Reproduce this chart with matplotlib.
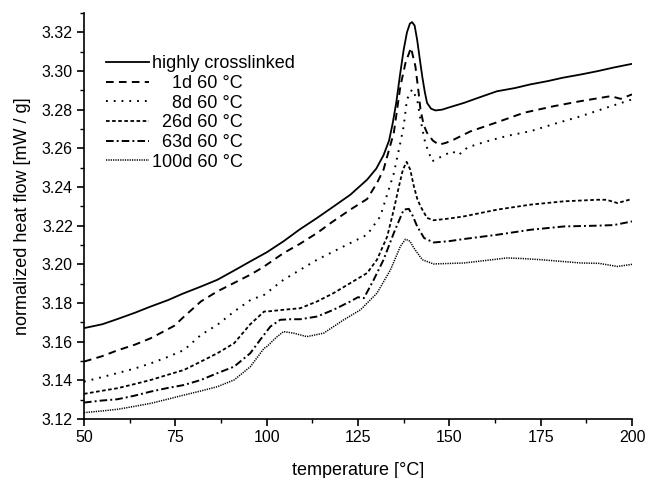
import matplotlib
matplotlib.use("Agg")
import matplotlib.pyplot as plt
from matplotlib.ticker import MultipleLocator, FormatStrFormatter

plt.rcParams['font.family'] = ['Liberation Sans', 'DejaVu Sans']
plt.rcParams['lines.scale_dashes'] = False

labels = ["highly crosslinked", "    1d 60 °C", "    8d 60 °C", "  26d 60 °C", "  63d 60 °C", "100d 60 °C"]

t_hc = [50, 55, 59, 64, 68, 73, 77, 82, 86.5, 91, 95.5, 100, 104.6, 109, 113.8, 118, 122.9, 127.5, 130, 132,
        133.5, 134.5, 135.5, 136.5, 137.5, 138.4, 139.2, 139.8, 140.5, 141.2, 142, 142.6, 143.3, 143.9, 145, 146.2,
        148, 150, 154, 158, 163, 168, 172, 177, 181, 186, 190.5, 195, 200]
v_hc = [3.167, 3.169, 3.1716, 3.175, 3.178, 3.1815, 3.1848, 3.1885, 3.192, 3.1967, 3.2015, 3.2062, 3.2119, 3.218,
        3.224, 3.2295, 3.236, 3.2438, 3.2495, 3.2565, 3.264, 3.273, 3.284, 3.298, 3.311, 3.320, 3.3245, 3.3253,
        3.3235, 3.316, 3.305, 3.297, 3.289, 3.2835, 3.2805, 3.2796, 3.2800, 3.2812, 3.2835, 3.2862, 3.2895,
        3.2912, 3.293, 3.2948, 3.2965, 3.2982, 3.2999, 3.3018, 3.3037]

t_1d = [50, 55, 59, 64, 68.3, 72, 74.7, 77.4, 82, 86.5, 91, 95.5, 99, 104.6, 109, 113.8, 118, 122.9, 127.5,
        130.2, 132, 133, 134.8, 136.6, 138, 139.5, 140.7, 141.6, 142.1, 143, 143.9, 145.5, 147.1, 149, 151.2,
        155.8, 163.1, 170.4, 178.6, 185.9, 194.2, 196.9, 200]
v_1d = [3.1497, 3.1525, 3.1554, 3.1585, 3.1618, 3.1655, 3.1682, 3.173, 3.1808, 3.186, 3.1903, 3.1946, 3.1985,
        3.2058, 3.2105, 3.2162, 3.222, 3.2283, 3.2338, 3.2421, 3.249, 3.2559, 3.268, 3.2921, 3.3042, 3.312,
        3.3025, 3.2887, 3.28, 3.272, 3.268, 3.264, 3.2619, 3.2628, 3.2645, 3.2688, 3.2735, 3.2784, 3.2818,
        3.2844, 3.287, 3.2856, 3.2879]

t_8d = [50, 54.6, 59.1, 63.7, 68.3, 72.8, 77.4, 82, 86.5, 91.1, 95.6, 99.3, 104.6, 113.8, 122.9, 127.5, 131.1,
        134.8, 136.6, 137.5, 138.4, 139.8, 141.2, 142.1, 143.4, 145.3, 148, 150.8, 152.5, 155, 160, 166, 172.3,
        179, 186, 193, 200]
v_8d = [3.1393, 3.1415, 3.1437, 3.146, 3.1488, 3.152, 3.1557, 3.1635, 3.1687, 3.1756, 3.1816, 3.1842, 3.192,
        3.2024, 3.211, 3.2153, 3.2248, 3.247, 3.263, 3.2714, 3.2853, 3.2905, 3.2853, 3.2749, 3.2628, 3.2533,
        3.2559, 3.2585, 3.2565, 3.2605, 3.2635, 3.2665, 3.2689, 3.2728, 3.2766, 3.281, 3.2853]

t_26d = [50, 54.6, 59.1, 63.7, 68.3, 72.8, 77.4, 82, 86.5, 91.1, 95.5, 99.3, 100.1, 104.6, 109.2, 113.8, 118.3,
         122.9, 127.5, 130.2, 133, 134.8, 136.2, 137.3, 138.3, 139.3, 140.3, 141.2, 142.1, 143.9, 145.7, 150,
         154, 163.1, 172.3, 181.4, 190.5, 193, 196, 200]
v_26d = [3.133, 3.1345, 3.1359, 3.138, 3.1402, 3.1428, 3.1454, 3.1497, 3.154, 3.1592, 3.169, 3.1756, 3.1756,
         3.1765, 3.1773, 3.1808, 3.1851, 3.1903, 3.1955, 3.2024, 3.2144, 3.2283, 3.2403, 3.249, 3.253, 3.249,
         3.2403, 3.234, 3.23, 3.224, 3.2228, 3.2237, 3.2248, 3.2283, 3.2309, 3.2326, 3.2334, 3.2334, 3.2317,
         3.2338]

t_63d = [50, 54.6, 59.1, 63.7, 68.3, 72.8, 77.4, 82, 86.5, 91.1, 95.5, 98.2, 101, 103.7, 106.5, 109.2, 113.8,
         118.3, 122.9, 125, 126.6, 129.3, 132, 134.8, 137.5, 138.9, 140, 141.2, 143.1, 145.7, 150, 154, 163.1,
         172.3, 181.4, 190.5, 195, 200]
v_63d = [3.1285, 3.1295, 3.1302, 3.132, 3.1342, 3.136, 3.1376, 3.1402, 3.1437, 3.1471, 3.154, 3.1609, 3.1678,
         3.1713, 3.1716, 3.1716, 3.173, 3.1765, 3.1808, 3.183, 3.1825, 3.192, 3.2024, 3.2162, 3.2283, 3.2287,
         3.225, 3.2196, 3.2136, 3.2113, 3.212, 3.2131, 3.2153, 3.2179, 3.2196, 3.22, 3.2203, 3.2222]

t_100d = [50, 54.6, 59.1, 63.7, 68.3, 72.8, 77.4, 82, 86.5, 91.1, 95.5, 99.3, 100.1, 102.5, 104.6, 107.4, 111,
          115.6, 121.1, 125.7, 130.2, 133.9, 136.6, 138, 139.2, 140.3, 142.6, 145.7, 154, 160, 165.8, 170, 175,
          186, 191, 196, 200]
v_100d = [3.1233, 3.1241, 3.125, 3.1265, 3.1281, 3.1302, 3.1324, 3.1345, 3.1367, 3.1402, 3.147, 3.1566, 3.1575,
          3.162, 3.1652, 3.1644, 3.1626, 3.1644, 3.1713, 3.1765, 3.1851, 3.1972, 3.2093, 3.213, 3.212, 3.2084,
          3.2024, 3.2002, 3.2007, 3.202, 3.2033, 3.203, 3.2024, 3.2007, 3.2005, 3.1989, 3.2]

x_ticks = [50, 75, 100, 125, 150, 175, 200]
y_ticks = [3.12, 3.14, 3.16, 3.18, 3.20, 3.22, 3.24, 3.26, 3.28, 3.30, 3.32]

fig = plt.figure(figsize=(6.47, 4.78), dpi=100)
ax = fig.add_axes([84/647, 1 - 419/478, (632-84)/647, (419-13)/478])

series = [(t_hc, v_hc), (t_1d, v_1d), (t_8d, v_8d), (t_26d, v_26d), (t_63d, v_63d), (t_100d, v_100d)]
styles = [dict(linestyle='-', lw=1.3),
          dict(linestyle=(0, (5.5, 3.8)), lw=1.4),
          dict(linestyle=(0, (1.3, 4.3)), lw=1.4),
          dict(linestyle=(0, (2.6, 1.8)), lw=1.3),
          dict(linestyle=(0, (5.5, 2.2, 1.4, 2.2)), lw=1.4),
          dict(linestyle=(0, (0.9, 0.8)), lw=1.1)]
for (t, v), lab, st in zip(series, labels, styles):
    ax.plot(t, v, color='black', label=lab, **st)

ax.set_xlim(50, 200)
ax.set_ylim(3.12, 3.33)
ax.set_xticks(x_ticks)
ax.set_yticks(y_ticks)
ax.xaxis.set_minor_locator(MultipleLocator(12.5))
ax.yaxis.set_minor_locator(MultipleLocator(0.01))
ax.yaxis.set_major_formatter(FormatStrFormatter('%.2f'))
for s in ['top', 'right']:
    ax.spines[s].set_visible(False)
for s in ['left', 'bottom']:
    ax.spines[s].set_linewidth(1.2)
ax.tick_params(which='major', direction='out', length=5, width=1.2, labelsize=11.5, pad=3)
ax.tick_params(which='minor', direction='out', length=3, width=1.0)
ax.set_xlabel("temperature [°C]", fontsize=13, labelpad=12)
ax.set_ylabel("normalized heat flow [mW / g]", fontsize=13, labelpad=8)

leg = ax.legend(loc='upper left', bbox_to_anchor=(0.041, 0.896), frameon=False, fontsize=13,
                handlelength=2.35, handletextpad=0.15, labelspacing=0.15, borderaxespad=0, borderpad=0)

fig.savefig("out.png", dpi=100)
